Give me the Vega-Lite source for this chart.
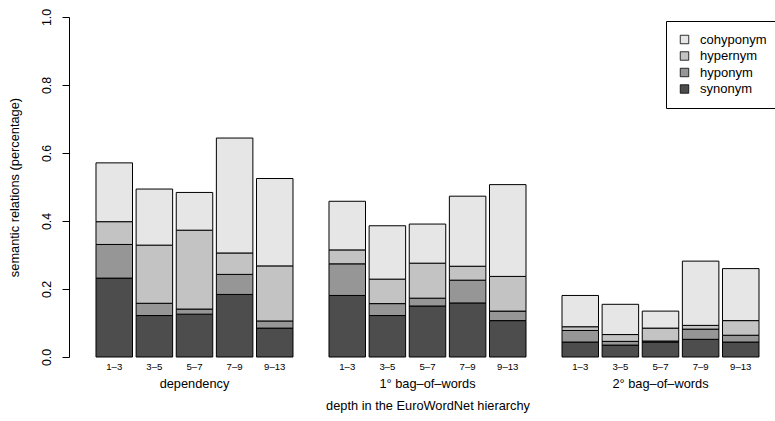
{
  "$schema": "https://vega.github.io/schema/vega-lite/v6.json",
  "width": 683,
  "height": 340,
  "autosize": "none",
  "padding": {"left": 86, "top": 17, "right": 6, "bottom": 64},
  "background": "white",
  "config": {
    "view": {"stroke": null},
    "font": "Liberation Sans",
    "axis": {"titleFontWeight": "normal", "labelColor": "black", "titleColor": "black", "domainColor": "black", "tickColor": "black", "grid": false}
  },
  "data": {"values": [
    {"group": "dependency", "depth": "1–3", "relation": "synonym", "order": 1, "value": 0.232},
    {"group": "dependency", "depth": "1–3", "relation": "hyponym", "order": 2, "value": 0.099},
    {"group": "dependency", "depth": "1–3", "relation": "hypernym", "order": 3, "value": 0.067},
    {"group": "dependency", "depth": "1–3", "relation": "cohyponym", "order": 4, "value": 0.173},
    {"group": "dependency", "depth": "3–5", "relation": "synonym", "order": 1, "value": 0.122},
    {"group": "dependency", "depth": "3–5", "relation": "hyponym", "order": 2, "value": 0.036},
    {"group": "dependency", "depth": "3–5", "relation": "hypernym", "order": 3, "value": 0.171},
    {"group": "dependency", "depth": "3–5", "relation": "cohyponym", "order": 4, "value": 0.165},
    {"group": "dependency", "depth": "5–7", "relation": "synonym", "order": 1, "value": 0.126},
    {"group": "dependency", "depth": "5–7", "relation": "hyponym", "order": 2, "value": 0.015},
    {"group": "dependency", "depth": "5–7", "relation": "hypernym", "order": 3, "value": 0.232},
    {"group": "dependency", "depth": "5–7", "relation": "cohyponym", "order": 4, "value": 0.111},
    {"group": "dependency", "depth": "7–9", "relation": "synonym", "order": 1, "value": 0.184},
    {"group": "dependency", "depth": "7–9", "relation": "hyponym", "order": 2, "value": 0.059},
    {"group": "dependency", "depth": "7–9", "relation": "hypernym", "order": 3, "value": 0.063},
    {"group": "dependency", "depth": "7–9", "relation": "cohyponym", "order": 4, "value": 0.338},
    {"group": "dependency", "depth": "9–13", "relation": "synonym", "order": 1, "value": 0.085},
    {"group": "dependency", "depth": "9–13", "relation": "hyponym", "order": 2, "value": 0.021},
    {"group": "dependency", "depth": "9–13", "relation": "hypernym", "order": 3, "value": 0.162},
    {"group": "dependency", "depth": "9–13", "relation": "cohyponym", "order": 4, "value": 0.257},
    {"group": "1° bag–of–words", "depth": "1–3", "relation": "synonym", "order": 1, "value": 0.181},
    {"group": "1° bag–of–words", "depth": "1–3", "relation": "hyponym", "order": 2, "value": 0.093},
    {"group": "1° bag–of–words", "depth": "1–3", "relation": "hypernym", "order": 3, "value": 0.041},
    {"group": "1° bag–of–words", "depth": "1–3", "relation": "cohyponym", "order": 4, "value": 0.143},
    {"group": "1° bag–of–words", "depth": "3–5", "relation": "synonym", "order": 1, "value": 0.122},
    {"group": "1° bag–of–words", "depth": "3–5", "relation": "hyponym", "order": 2, "value": 0.035},
    {"group": "1° bag–of–words", "depth": "3–5", "relation": "hypernym", "order": 3, "value": 0.072},
    {"group": "1° bag–of–words", "depth": "3–5", "relation": "cohyponym", "order": 4, "value": 0.157},
    {"group": "1° bag–of–words", "depth": "5–7", "relation": "synonym", "order": 1, "value": 0.150},
    {"group": "1° bag–of–words", "depth": "5–7", "relation": "hyponym", "order": 2, "value": 0.023},
    {"group": "1° bag–of–words", "depth": "5–7", "relation": "hypernym", "order": 3, "value": 0.103},
    {"group": "1° bag–of–words", "depth": "5–7", "relation": "cohyponym", "order": 4, "value": 0.115},
    {"group": "1° bag–of–words", "depth": "7–9", "relation": "synonym", "order": 1, "value": 0.159},
    {"group": "1° bag–of–words", "depth": "7–9", "relation": "hyponym", "order": 2, "value": 0.067},
    {"group": "1° bag–of–words", "depth": "7–9", "relation": "hypernym", "order": 3, "value": 0.041},
    {"group": "1° bag–of–words", "depth": "7–9", "relation": "cohyponym", "order": 4, "value": 0.206},
    {"group": "1° bag–of–words", "depth": "9–13", "relation": "synonym", "order": 1, "value": 0.107},
    {"group": "1° bag–of–words", "depth": "9–13", "relation": "hyponym", "order": 2, "value": 0.028},
    {"group": "1° bag–of–words", "depth": "9–13", "relation": "hypernym", "order": 3, "value": 0.102},
    {"group": "1° bag–of–words", "depth": "9–13", "relation": "cohyponym", "order": 4, "value": 0.270},
    {"group": "2° bag–of–words", "depth": "1–3", "relation": "synonym", "order": 1, "value": 0.044},
    {"group": "2° bag–of–words", "depth": "1–3", "relation": "hyponym", "order": 2, "value": 0.034},
    {"group": "2° bag–of–words", "depth": "1–3", "relation": "hypernym", "order": 3, "value": 0.011},
    {"group": "2° bag–of–words", "depth": "1–3", "relation": "cohyponym", "order": 4, "value": 0.092},
    {"group": "2° bag–of–words", "depth": "3–5", "relation": "synonym", "order": 1, "value": 0.035},
    {"group": "2° bag–of–words", "depth": "3–5", "relation": "hyponym", "order": 2, "value": 0.011},
    {"group": "2° bag–of–words", "depth": "3–5", "relation": "hypernym", "order": 3, "value": 0.020},
    {"group": "2° bag–of–words", "depth": "3–5", "relation": "cohyponym", "order": 4, "value": 0.089},
    {"group": "2° bag–of–words", "depth": "5–7", "relation": "synonym", "order": 1, "value": 0.044},
    {"group": "2° bag–of–words", "depth": "5–7", "relation": "hyponym", "order": 2, "value": 0.003},
    {"group": "2° bag–of–words", "depth": "5–7", "relation": "hypernym", "order": 3, "value": 0.038},
    {"group": "2° bag–of–words", "depth": "5–7", "relation": "cohyponym", "order": 4, "value": 0.050},
    {"group": "2° bag–of–words", "depth": "7–9", "relation": "synonym", "order": 1, "value": 0.052},
    {"group": "2° bag–of–words", "depth": "7–9", "relation": "hyponym", "order": 2, "value": 0.030},
    {"group": "2° bag–of–words", "depth": "7–9", "relation": "hypernym", "order": 3, "value": 0.011},
    {"group": "2° bag–of–words", "depth": "7–9", "relation": "cohyponym", "order": 4, "value": 0.189},
    {"group": "2° bag–of–words", "depth": "9–13", "relation": "synonym", "order": 1, "value": 0.044},
    {"group": "2° bag–of–words", "depth": "9–13", "relation": "hyponym", "order": 2, "value": 0.020},
    {"group": "2° bag–of–words", "depth": "9–13", "relation": "hypernym", "order": 3, "value": 0.043},
    {"group": "2° bag–of–words", "depth": "9–13", "relation": "cohyponym", "order": 4, "value": 0.153}
  ]},
  "encoding": {
    "x": {
      "field": "group", "type": "nominal", "sort": null,
      "scale": {"paddingInner": 0.1545, "paddingOuter": 0.0429},
      "axis": {"title": "depth in the EuroWordNet hierarchy", "domain": false, "ticks": false, "labelAngle": 0, "labelPadding": 20, "labelFontSize": 12.8, "titleFontSize": 12.8, "titlePadding": 10}
    },
    "xOffset": {"field": "depth", "type": "nominal", "sort": null, "scale": {"paddingInner": 0.09, "paddingOuter": 0}}
  },
  "layer": [
    {
      "mark": {"type": "bar", "stroke": "black", "strokeWidth": 1},
      "encoding": {
        "y": {
          "field": "value", "type": "quantitative", "stack": "zero",
          "scale": {"domain": [0, 1], "nice": false},
          "axis": {"title": "semantic relations (percentage)", "values": [0, 0.2, 0.4, 0.6, 0.8, 1.0], "format": ".1f", "offset": 17, "tickSize": 7, "labelAngle": -90, "labelAlign": "center", "labelBaseline": "bottom", "labelPadding": 9, "labelFontSize": 12.4, "titleFontSize": 12.8, "titlePadding": 19}
        },
        "order": {"field": "order", "type": "quantitative"},
        "color": {
          "field": "relation", "type": "nominal",
          "scale": {"domain": ["cohyponym", "hypernym", "hyponym", "synonym"], "range": ["#E6E6E6", "#C3C3C3", "#969696", "#4D4D4D"]},
          "legend": {"title": null, "orient": "none", "legendX": 580, "legendY": 4, "symbolType": "square", "symbolSize": 72, "symbolStrokeColor": "black", "symbolStrokeWidth": 0.8, "labelFontSize": 13, "labelColor": "black", "rowPadding": 2.5, "strokeColor": "black", "padding": 12, "labelOffset": 9}
        }
      }
    },
    {
      "transform": [{"filter": "datum.relation === 'synonym'"}],
      "mark": {"type": "text", "baseline": "top", "dy": 5, "fontSize": 9.6, "color": "black"},
      "encoding": {
        "y": {"datum": 0, "type": "quantitative"},
        "text": {"field": "depth"}
      }
    }
  ]
}
